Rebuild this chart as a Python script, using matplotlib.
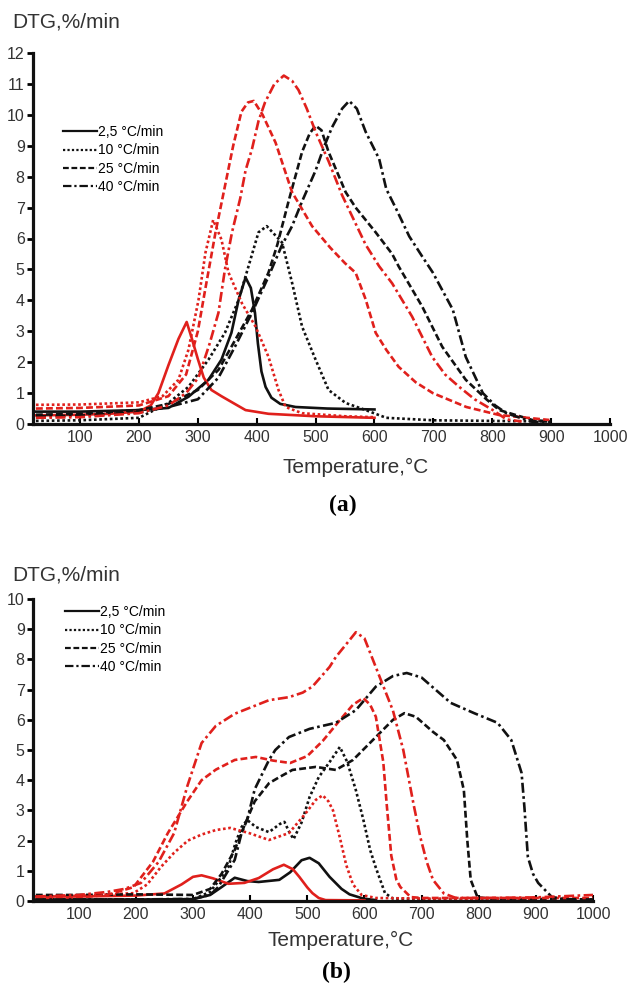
#!/usr/bin/env python3
"""dtg_curves.py - DTG curves at four heating rates, panels (a) and (b)"""

import matplotlib
matplotlib.use("Agg")
import matplotlib.pyplot as plt
from matplotlib.lines import Line2D

RED = "#e0201c"
BLACK = "#111111"
GREY = "#333333"

rate_labels = ["2,5 °C/min", "10 °C/min", "25 °C/min", "40 °C/min"]
x_ticks = [100, 200, 300, 400, 500, 600, 700, 800, 900, 1000]

# ---- panel (a): temperature (°C) / DTG (%/min) ----
a_k1_t = [25, 100, 200, 250, 284, 318, 340, 357, 369, 381, 390, 397, 402, 408, 415, 425, 440, 466, 520, 600]
a_k1_v = [0.4, 0.4, 0.45, 0.52, 0.88, 1.43, 2.08, 2.95, 4.0, 4.74, 4.4, 3.6, 2.6, 1.7, 1.2, 0.85, 0.65, 0.55, 0.5, 0.47]
a_r1_t = [25, 100, 150, 200, 220, 233, 250, 267, 281, 290, 300, 310, 323, 340, 360, 381, 420, 500, 600]
a_r1_v = [0.28, 0.3, 0.33, 0.4, 0.6, 1.0, 1.9, 2.75, 3.3, 2.75, 2.1, 1.5, 1.1, 0.9, 0.68, 0.45, 0.33, 0.25, 0.2]

a_k2_t = [25, 100, 200, 250, 284, 318, 346, 369, 386, 403, 417, 443, 460, 477, 500, 522, 551, 585, 620, 700, 800, 900]
a_k2_v = [0.1, 0.12, 0.2, 0.68, 1.2, 2.08, 2.95, 4.0, 5.1, 6.2, 6.4, 5.87, 4.57, 3.15, 2.08, 1.1, 0.68, 0.45, 0.2, 0.12, 0.1, 0.08]
a_r2_t = [25, 100, 200, 240, 267, 284, 301, 313, 326, 340, 352, 375, 398, 420, 437, 449, 477, 550, 600]
a_r2_v = [0.62, 0.63, 0.7, 0.9, 1.43, 2.4, 4.0, 5.55, 6.6, 5.97, 4.9, 3.9, 3.15, 2.17, 1.1, 0.55, 0.35, 0.25, 0.22]

a_k3_t = [25, 100, 200, 250, 300, 335, 360, 392, 420, 435, 454, 477, 490, 500, 510, 522, 551, 568, 585, 602, 630, 641,
          681, 715, 755, 790, 812, 868, 900]
a_k3_v = [0.3, 0.33, 0.45, 0.65, 1.1, 1.75, 2.6, 3.7, 4.9, 5.8, 7.2, 8.8, 9.4, 9.65, 9.5, 8.8, 7.5, 7.0, 6.6, 6.2, 5.5,
          5.1, 3.8, 2.5, 1.43, 0.8, 0.45, 0.13, 0.08]
a_r3_t = [25, 100, 200, 250, 280, 300, 312, 330, 345, 360, 374, 385, 395, 410, 432, 460, 494, 525, 550, 568, 585, 602,
          620, 641, 670, 699, 756, 812, 897]
a_r3_v = [0.5, 0.52, 0.6, 0.9, 1.6, 3.0, 4.3, 6.2, 7.6, 9.0, 10.1, 10.4, 10.45, 10.0, 9.1, 7.5, 6.4, 5.7, 5.2, 4.89,
          4.03, 2.95, 2.4, 1.85, 1.35, 1.0, 0.55, 0.29, 0.13]

a_k4_t = [25, 100, 200, 250, 300, 335, 363, 392, 420, 442, 460, 477, 500, 515, 528, 545, 557, 570, 585, 608, 620, 637,
          659, 681, 699, 733, 755, 784, 805, 824, 868, 900]
a_k4_v = [0.25, 0.27, 0.38, 0.55, 0.8, 1.5, 2.5, 3.6, 4.77, 5.75, 6.4, 7.2, 8.2, 9.0, 9.6, 10.2, 10.45, 10.2, 9.45,
          8.57, 7.6, 6.95, 6.07, 5.42, 4.9, 3.7, 2.17, 1.0, 0.6, 0.35, 0.07, 0.05]
a_r4_t = [25, 100, 200, 250, 280, 301, 320, 335, 346, 358, 372, 381, 392, 403, 414, 430, 446, 460, 471, 485, 500, 522,
          545, 565, 585, 608, 630, 664, 698, 720, 744, 770, 801, 824, 850]
a_r4_v = [0.2, 0.22, 0.35, 0.6, 1.0, 1.5, 2.6, 3.6, 5.0, 6.2, 7.3, 8.2, 8.9, 9.8, 10.4, 11.0, 11.27, 11.1, 10.8, 10.2,
          9.45, 8.5, 7.4, 6.6, 5.8, 5.1, 4.55, 3.47, 2.17, 1.6, 1.2, 0.8, 0.45, 0.15, 0.08]

# ---- panel (b) ----
b_k1_t = [25, 200, 300, 330, 350, 373, 395, 415, 451, 470, 490, 504, 520, 539, 560, 574, 598, 620]
b_k1_v = [0.05, 0.05, 0.06, 0.2, 0.46, 0.77, 0.66, 0.63, 0.7, 0.95, 1.35, 1.43, 1.25, 0.8, 0.4, 0.22, 0.08, 0.03]
b_r1_t = [25, 100, 200, 250, 280, 300, 315, 335, 362, 390, 415, 440, 459, 475, 486, 500, 509, 520, 532, 600]
b_r1_v = [0.15, 0.15, 0.18, 0.25, 0.55, 0.8, 0.85, 0.75, 0.57, 0.6, 0.76, 1.05, 1.2, 1.05, 0.8, 0.45, 0.26, 0.1, 0.03,
          0.02]

b_k2_t = [25, 200, 300, 330, 350, 362, 374, 385, 395, 410, 433, 452, 460, 468, 476, 490, 504, 520, 539, 557, 570, 585,
          598, 610, 620, 636, 650, 750, 900]
b_k2_v = [0.05, 0.05, 0.06, 0.3, 0.8, 1.13, 1.9, 2.45, 2.68, 2.45, 2.28, 2.55, 2.62, 2.3, 2.05, 2.6, 3.44, 4.1, 4.6,
          5.1, 4.6, 3.67, 2.7, 1.69, 1.1, 0.26, 0.08, 0.05, 0.05]
b_r2_t = [25, 100, 196, 220, 244, 267, 291, 315, 340, 365, 398, 433, 468, 497, 515, 527, 537, 545, 557, 568, 580, 595,
          620, 700, 800, 900]
b_r2_v = [0.15, 0.17, 0.26, 0.55, 1.13, 1.6, 2.0, 2.2, 2.35, 2.42, 2.25, 2.02, 2.25, 2.9, 3.35, 3.5, 3.3, 3.0, 2.1, 1.2,
          0.55, 0.2, 0.1, 0.08, 0.08, 0.08]

b_k3_t = [25, 100, 200, 300, 330, 350, 373, 390, 408, 433, 451, 474, 515, 550, 580, 620, 650, 670, 690, 720, 739, 762,
          774, 780, 786, 798, 820, 1000]
b_k3_v = [0.2, 0.2, 0.22, 0.2, 0.4, 0.9, 1.69, 2.5, 3.3, 3.9, 4.1, 4.34, 4.44, 4.34, 4.67, 5.43, 6.0, 6.22, 6.1, 5.6,
          5.33, 4.67, 3.67, 2.02, 0.7, 0.12, 0.08, 0.05]
b_r3_t = [25, 100, 150, 196, 230, 256, 290, 315, 340, 373, 410, 440, 470, 500, 527, 562, 580, 598, 610, 620, 633, 639,
          647, 656, 663, 681, 700, 1000]
b_r3_v = [0.1, 0.12, 0.2, 0.46, 1.3, 2.25, 3.3, 4.0, 4.35, 4.67, 4.77, 4.65, 4.57, 4.8, 5.3, 6.1, 6.5, 6.72, 6.5, 6.1,
          4.6, 3.2, 1.5, 0.7, 0.46, 0.13, 0.1, 0.1]

b_k4_t = [25, 200, 300, 330, 344, 373, 385, 395, 408, 433, 444, 468, 504, 550, 585, 620, 650, 674, 700, 751, 792, 833,
          857, 875, 880, 886, 895, 904, 928, 950, 1000]
b_k4_v = [0.05, 0.05, 0.07, 0.2, 0.46, 1.36, 2.25, 2.7, 3.7, 4.67, 5.0, 5.43, 5.7, 5.9, 6.32, 7.1, 7.45, 7.55, 7.4,
          6.56, 6.22, 5.9, 5.33, 4.24, 3.1, 1.46, 0.9, 0.6, 0.13, 0.06, 0.05]
b_r4_t = [25, 100, 150, 180, 209, 240, 267, 290, 315, 340, 373, 433, 468, 492, 509, 539, 550, 574, 585, 600, 625, 650,
          668, 686, 698, 709, 720, 739, 760, 800, 900, 1000]
b_r4_v = [0.15, 0.2, 0.3, 0.4, 0.6, 1.3, 2.25, 3.8, 5.23, 5.8, 6.2, 6.65, 6.75, 6.9, 7.1, 7.75, 8.08, 8.64, 8.9, 8.7,
          7.5, 6.3, 5.0, 3.2, 2.1, 1.3, 0.7, 0.25, 0.1, 0.1, 0.12, 0.2]

LW = 1.9
STYLES = ["-", (0, (1, 1)), (0, (2.6, 1.2)), (0, (3.8, 1.3, 1, 1.3))]


def draw_panel(ax, series, ymax, label_y_px, temp_xy, letter, letter_xy, legend_xy):
    for (t, v, color, ls) in series:
        ax.plot(t, v, color=color, linestyle=ls, linewidth=LW)

    ax.set_xlim(20, 1000)
    ax.set_ylim(0, ymax)
    ax.set_xticks(x_ticks)
    ax.set_yticks(range(0, ymax + 1))
    for side in ("top", "right"):
        ax.spines[side].set_visible(False)
    for side in ("left", "bottom"):
        ax.spines[side].set_linewidth(2.3)
        ax.spines[side].set_color(BLACK)
    ax.tick_params(axis="y", direction="out", length=4, width=2, pad=2,
                   labelsize=11.5, labelcolor=GREY)
    ax.tick_params(axis="x", direction="in", length=4, width=1.5, pad=4,
                   labelsize=11.5, labelcolor=GREY)

    fig = ax.figure
    fig.text(12 / 628, 1 - label_y_px / 985, "DTG,%/min", fontsize=15, color=GREY,
             ha="left", va="center")
    fig.text(temp_xy[0] / 628, 1 - temp_xy[1] / 985, "Temperature,°C", fontsize=15,
             color=GREY, ha="center", va="center")
    fig.text(letter_xy[0] / 628, 1 - letter_xy[1] / 985, letter, fontsize=17,
             fontweight="bold", family="Liberation Serif", ha="center", va="center")

    handles = [Line2D([], [], color=BLACK, linestyle=ls, linewidth=1.6) for ls in STYLES]
    ax.legend(handles, rate_labels, loc="upper left",
              bbox_to_anchor=(legend_xy[0] / 628, 1 - legend_xy[1] / 985),
              bbox_transform=fig.transFigure, frameon=False, fontsize=10,
              handlelength=2.45, handletextpad=0.05, labelspacing=0.32,
              borderpad=0, borderaxespad=0)


def main() -> None:
    plt.rcParams["font.family"] = ["Liberation Sans", "DejaVu Sans"]
    fig = plt.figure(figsize=(6.28, 9.85), dpi=100)

    ax_a = fig.add_axes([33 / 628, 1 - 424 / 985, (610 - 33) / 628, (424 - 53) / 985])
    series_a = [
        (a_k1_t, a_k1_v, BLACK, STYLES[0]), (a_r1_t, a_r1_v, RED, STYLES[0]),
        (a_k2_t, a_k2_v, BLACK, STYLES[1]), (a_r2_t, a_r2_v, RED, STYLES[1]),
        (a_k3_t, a_k3_v, BLACK, STYLES[2]), (a_r3_t, a_r3_v, RED, STYLES[2]),
        (a_k4_t, a_k4_v, BLACK, STYLES[3]), (a_r4_t, a_r4_v, RED, STYLES[3]),
    ]
    draw_panel(ax_a, series_a, 12, 22, (356, 467), "(a)", (343, 505), (63, 125))

    ax_b = fig.add_axes([33 / 628, 1 - 901 / 985, (593 - 33) / 628, (901 - 599) / 985])
    series_b = [
        (b_k1_t, b_k1_v, BLACK, STYLES[0]), (b_r1_t, b_r1_v, RED, STYLES[0]),
        (b_k2_t, b_k2_v, BLACK, STYLES[1]), (b_r2_t, b_r2_v, RED, STYLES[1]),
        (b_k3_t, b_k3_v, BLACK, STYLES[2]), (b_r3_t, b_r3_v, RED, STYLES[2]),
        (b_k4_t, b_k4_v, BLACK, STYLES[3]), (b_r4_t, b_r4_v, RED, STYLES[3]),
    ]
    draw_panel(ax_b, series_b, 10, 575, (341, 940), "(b)", (336, 972), (65, 605))

    fig.savefig("out.png", dpi=100)


if __name__ == "__main__":
    main()
